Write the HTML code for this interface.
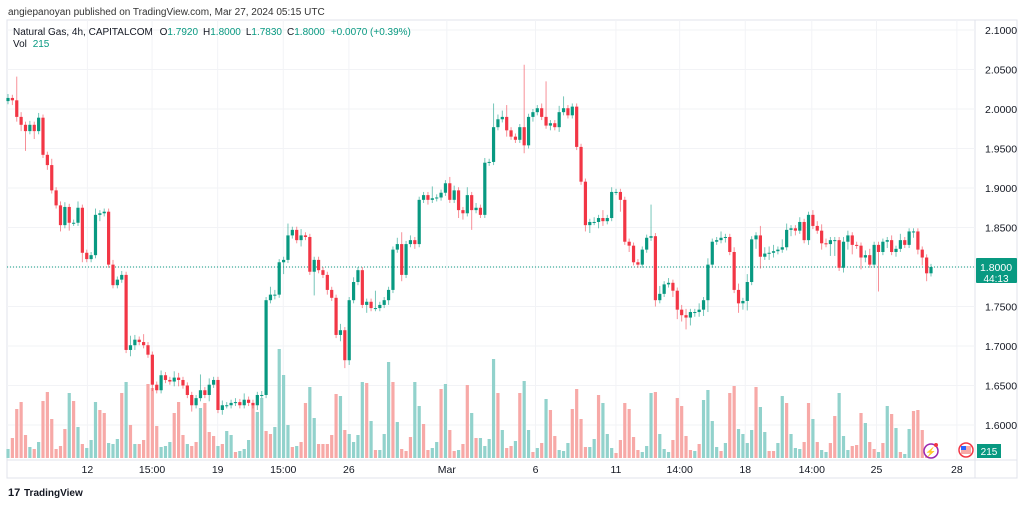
<!DOCTYPE html>
<html><head><meta charset="utf-8"><style>
body{margin:0;width:1024px;height:505px;background:#fff;overflow:hidden;font-family:"Liberation Sans",sans-serif}
svg{position:absolute;left:0;top:0}
</style></head><body>
<svg id="c" width="1024" height="505" xmlns="http://www.w3.org/2000/svg"></svg>
<script>
const closes=[2.014,2.011,1.990,1.980,1.972,1.980,1.972,1.989,1.942,1.929,1.897,1.878,1.853,1.876,1.856,1.856,1.875,1.818,1.810,
1.815,1.866,1.868,1.870,
1.803,1.777,1.784,1.790,1.695,1.701,1.708,1.705,
1.701,1.689,1.651,1.644,1.663,1.657,1.655,
1.660,1.657,1.650,
1.638,1.625,1.634,1.644,1.638,1.651,1.657,1.619,1.625,1.625,1.628,
1.629,1.625,1.632,1.628,
1.625,1.638,1.638,1.758,1.765,1.765,1.806,1.809,1.840,1.847,1.834,1.840,1.838,
1.794,1.809,1.796,1.790,1.771,1.761,1.714,1.720,1.682,1.758,1.781,1.796,1.752,1.756,1.748,1.748,1.752,
1.758,1.771,1.822,1.829,1.790,1.829,1.834,1.829,1.885,1.891,1.885,1.887,1.888,
1.894,1.906,1.885,1.897,1.872,1.868,1.891,1.872,1.875,1.866,1.932,1.933,1.977,1.987,1.990,1.973,1.965,1.961,1.977,1.954,1.990,1.996,2.001,1.990,1.979,1.982,1.977,1.996,2.001,1.992,2.003,1.952,1.908,1.853,1.857,1.857,1.862,1.858,1.862,1.895,1.895,1.885,1.832,1.827,1.806,1.803,1.822,1.837,1.839,1.758,1.766,1.778,1.780,1.770,1.746,1.739,1.736,1.743,1.743,1.746,1.758,1.803,1.832,1.834,1.837,1.838,1.819,1.771,1.754,1.757,1.781,1.835,1.840,1.813,1.817,1.818,1.820,1.822,1.825,1.847,1.849,1.846,1.857,1.834,1.866,1.852,1.846,1.830,1.829,1.834,1.834,1.799,1.832,1.840,1.828,1.827,1.812,1.815,1.803,1.828,1.819,1.832,1.834,1.819,1.823,1.834,1.828,1.845,1.845,1.822,1.812,1.792,1.800];
const firstOpen=2.010;
const wickUp=[5,4,30,6,4,5,4,6,4,4,8,4,5,6,4,4,8,4,4,
4,8,4,4,
4,6,4,5,4,12,6,4,
10,4,4,4,6,4,4,
8,6,4,
4,4,4,20,4,8,4,4,6,4,4,
5,4,8,4,
4,4,5,4,10,6,4,4,15,4,4,8,4,
4,4,4,4,4,4,4,8,4,4,6,4,4,4,4,22,4,
4,4,4,8,15,4,6,4,4,4,4,15,4,
4,4,8,6,4,4,10,4,6,4,6,4,30,6,8,15,4,4,4,79,4,4,4,6,45,4,4,8,15,4,4,4,4,4,4,6,4,10,4,6,4,4,4,4,4,4,4,4,40,4,10,4,6,4,4,6,8,4,4,8,4,8,4,4,8,4,4,6,8,4,10,4,4,12,8,8,8,4,10,8,4,4,6,4,4,6,6,8,6,4,4,4,6,6,4,4,4,6,8,4,4,4,4,6,4,8,4,4,4,4,4,4,4];
const wickDn=[4,6,6,8,25,4,10,4,4,6,4,4,8,4,10,4,4,12,4,
4,4,8,4,
4,4,4,4,4,8,6,4,
4,4,8,4,4,4,4,
6,8,4,
4,8,4,4,4,8,4,4,6,4,4,
4,4,4,4,
4,6,4,4,4,6,4,15,4,4,4,8,4,
4,30,4,4,6,4,4,8,10,6,4,4,4,10,4,4,4,
4,6,4,4,8,4,4,6,4,4,6,4,4,
4,4,4,4,10,8,4,25,4,4,4,4,4,4,4,8,4,4,4,10,4,6,4,4,4,6,4,6,4,4,4,4,4,8,10,4,8,6,4,4,4,15,4,8,4,4,4,4,4,8,4,4,4,8,12,8,15,10,6,6,8,15,4,4,4,6,4,4,12,8,12,4,12,15,4,8,6,4,4,4,8,6,4,4,6,4,4,8,4,15,20,4,6,10,12,4,15,6,4,4,50,4,8,4,6,4,4,4,8,6,10,10,4,4,8,10,4];
const vols=[9,-20,-49,-56,-23,11,-9,16,-57,-66,-39,-9,-12,-29,65,-57,31,-14,10,18,56,-48,-45,15,14,19,-65,76,-33,14,-14,-18,-74,-70,-32,11,12,16,-45,-56,-23,14,-12,-16,50,-55,-26,-22,12,-14,27,23,-6,7,9,18,-53,46,60,-27,-24,31,109,83,33,-11,12,-16,-55,71,40,-14,-14,-14,
-23,-64,62,-28,24,16,23,76,-75,37,-8,8,24,96,-76,36,-9,-7,-21,76,52,-34,-8,10,16,-69,74,-28,-7,8,-14,-73,45,-20,20,12,19,99,-65,28,-10,-12,17,-65,77,28,-6,10,-15,59,-48,-22,8,7,15,-49,-69,-39,-11,11,19,-63,55,24,10,-5,-18,-55,-49,-21,-8,6,12,65,
-66,24,9,6,-18,-60,-52,-22,-8,7,-14,58,68,37,11,-7,15,-65,-72,29,24,15,28,-71,51,26,-7,-7,15,62,-55,24,10,9,-16,-55,39,-16,8,6,-15,-42,65,22,8,-12,-13,-45,35,-16,-9,6,-15,52,-44,30,-6,4,29,-47,-48,-28,-3,1];
const priceTicks=[2.1,2.05,2.0,1.95,1.9,1.85,1.8,1.75,1.7,1.65,1.6];
const timeLabels=["12","15:00","19","15:00","26","Mar","6","11","14:00","18","14:00","25","28"];
const timeFrac=[0.087,0.157,0.228,0.299,0.370,0.476,0.572,0.659,0.728,0.799,0.871,0.941,1.028];

const NS="http://www.w3.org/2000/svg";
const svg=document.getElementById('c');
function el(t,a,p){const e=document.createElementNS(NS,t);for(const k in a)e.setAttribute(k,a[k]);(p||svg).appendChild(e);return e;}
const PL=7,PR=975,PT=20,PB=460;
const yP=p=>30+(2.1-p)*790;
const X0=8,X1=931;
const xC=i=>X0+i*(X1-X0)/(closes.length-1);
const xV=i=>X0+i*(X1-X0)/(vols.length-1);
const xT=f=>PL+f*(X1-PL);
const UP="#089981",DN="#f23645";

el('rect',{x:PL,y:PT,width:1017-PL,height:478-PT,fill:"none",stroke:"#e0e3eb"});
el('line',{x1:PR,y1:PT,x2:PR,y2:478,stroke:"#e0e3eb"});
el('line',{x1:PL,y1:PB,x2:1017,y2:PB,stroke:"#e0e3eb"});
const grid=el('g',{});
priceTicks.forEach(p=>{el('line',{x1:PL,y1:yP(p),x2:PR,y2:yP(p),stroke:"#f2f3f6"},grid);});
timeFrac.forEach(f=>{if(xT(f)<PR)el('line',{x1:xT(f),y1:PT,x2:xT(f),y2:PB,stroke:"#f2f3f6"},grid);});

const yax=el('g',{'font-size':"10.5",fill:"#131722"});

priceTicks.forEach(p=>{const t=el('text',{x:985,y:yP(p)+4},yax);t.textContent=p.toFixed(4);
});
const xax=el('g',{'font-size':"10.5",fill:"#131722",'text-anchor':"middle"});

timeLabels.forEach((l,i)=>{const t=el('text',{x:xT(timeFrac[i]),y:473},xax);t.textContent=l;
});

const vg=el('g',{});
vols.forEach((v,i)=>{const h=Math.abs(v);const r=el('rect',{x:xV(i)-1.6,y:PB-2-h,width:3.2,height:h,fill:v>=0?"#92d2cc":"#f7a9a7"},vg);
});

el('line',{x1:PL,y1:yP(1.8),x2:PR,y2:yP(1.8),stroke:UP,'stroke-dasharray':"1,2",'stroke-width':"1"});

const cg=el('g',{});
closes.forEach((c,i)=>{const o=i?closes[i-1]:firstOpen;const col=c>=o?UP:DN;const x=xC(i);
const hi=Math.max(o,c)+(wickUp[i]||4)/1000,lo=Math.min(o,c)-(wickDn[i]||4)/1000;
const g=el('g',{},cg);
el('line',{x1:x,y1:yP(hi),x2:x,y2:yP(lo),stroke:col,'stroke-width':"1",opacity:"0.55"},g);
const t=yP(Math.max(o,c)),b=yP(Math.min(o,c));
el('rect',{x:x-1.6,y:t,width:3.2,height:Math.max(1,b-t),fill:col},g);});

const pl=el('g',{});
el('rect',{x:976,y:yP(1.8)-9,width:41,height:25,fill:UP,rx:1},pl);
let t=el('text',{x:996,y:yP(1.8)+4,'font-size':"10.5",fill:"#fff",'text-anchor':"middle"},pl);t.textContent="1.8000";
t=el('text',{x:996,y:yP(1.8)+15,'font-size':"10",fill:"#fff",'text-anchor':"middle"},pl);t.textContent="44:13";
const vl=el('g',{});
el('rect',{x:977,y:444,width:24,height:14,fill:UP},vl);
t=el('text',{x:989,y:455,'font-size':"10",fill:"#fff",'text-anchor':"middle"},vl);t.textContent="215";
const ic=el('g',{});
el('circle',{cx:931,cy:451,r:7,fill:"#fff",stroke:"#9c27b0",'stroke-width':"1.5"},ic);
t=el('text',{x:931,y:455,'font-size':"9",fill:"#9c27b0",'text-anchor':"middle"},ic);t.textContent="⚡";
el('circle',{cx:936,cy:445,r:2,fill:DN},ic);
const fl=el('g',{});
el('circle',{cx:966,cy:450,r:7,fill:"#fff",stroke:DN,'stroke-width':"1.5"},fl);
el('rect',{x:961,y:446,width:10,height:8,fill:"#f7a9a7"},fl);
el('rect',{x:961,y:446,width:5,height:4,fill:"#2962ff"},fl);

t=el('text',{x:8,y:15,'font-size':"10",fill:"#333"});t.textContent="angiepanoyan published on TradingView.com, Mar 27, 2024 05:15 UTC";

const lg=el('text',{x:13,y:35,'font-size':"10",fill:"#131722"});
lg.innerHTML='Natural Gas, 4h, CAPITALCOM  <tspan dx="4">O</tspan><tspan fill="#089981">1.7920</tspan><tspan dx="5">H</tspan><tspan fill="#089981">1.8000</tspan><tspan dx="5">L</tspan><tspan fill="#089981">1.7830</tspan><tspan dx="5">C</tspan><tspan fill="#089981">1.8000</tspan><tspan dx="6" fill="#089981">+0.0070 (+0.39%)</tspan>';
const vv=el('text',{x:13,y:47,'font-size':"10",fill:"#131722"});
vv.innerHTML='Vol <tspan dx="3" fill="#089981">215</tspan>';
const lo=el('g',{});
t=el('text',{x:8,y:496,'font-size':"11",'font-weight':"bold",fill:"#131722"},lo);t.textContent="17";
t=el('text',{x:24,y:496,'font-size':"10",'font-weight':"bold",fill:"#131722"},lo);t.textContent="TradingView";
</script>
</body></html>
